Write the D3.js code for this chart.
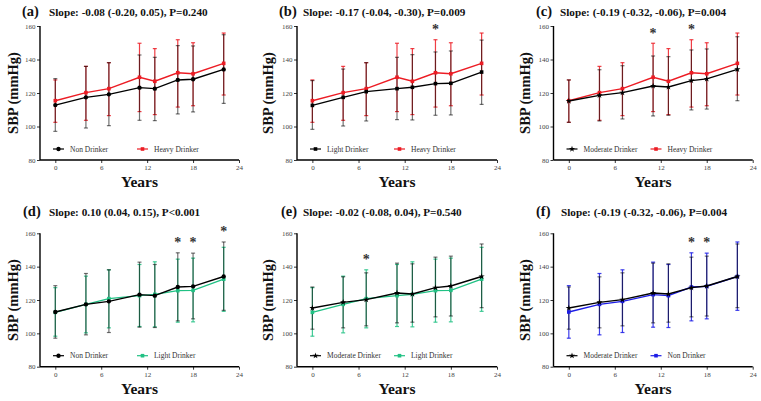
<!DOCTYPE html>
<html><head><meta charset="utf-8">
<script src="https://cdn.jsdelivr.net/npm/d3@7"></script>
<style>body{margin:0;background:#fff}svg{display:block}svg text{font-family:"Liberation Serif","Times New Roman",Times,serif}</style>
</head><body>
<svg id="c" width="761" height="401"></svg>
<script>
const years = [0,4,7,11,13,16,18,22];
const xTicks = [0,6,12,18,24];
const yTicks = [80,100,120,140,160];

const nonMean   = [112.8,117.4,119.2,123.2,122.6,127.8,128.2,134.1];
const nonLow    = [97.1,99.1,100.5,103.7,103.5,107.5,108.7,113.8];
const nonHigh   = [128.6,135.9,138.1,142.7,141.3,148.3,148.1,154.8];
const lightMean = [112.6,117.4,120.8,122.6,123.4,125.6,125.8,132.5];
const lightLow  = [98.3,100.3,103.3,104.1,103.9,106.7,106.9,113.2];
const lightHigh = [127.4,134.3,138.1,141.3,142.9,144.5,145.1,151.6];
const modMean   = [115.2,118.6,120.2,124.2,123.6,127.4,128.4,134.1];
const modLow    = [102.5,103.3,104.5,106.3,106.7,109.9,110.4,115.4];
const modHigh   = [127.8,133.9,136.3,142.1,141.7,145.7,146.3,153.6];
const heavyMean = [115.4,120.2,122.6,129.4,127.0,132.1,131.5,137.7];
const heavyLow  = [102.5,103.7,106.5,108.9,107.1,111.6,112.4,118.8];
const heavyHigh = [127.8,135.9,138.1,149.7,146.5,151.8,150.0,155.8];

const panelLabels = ["(a)","(b)","(c)","(d)","(e)","(f)"];
const slopeTexts = [
  "Slope: -0.08 (-0.20, 0.05), P=0.240",
  "Slope: -0.17 (-0.04, -0.30), P=0.009",
  "Slope: (-0.19 (-0.32, -0.06), P=0.004",
  "Slope: 0.10 (0.04, 0.15), P<0.001",
  "Slope: -0.02 (-0.08, 0.04), P=0.540",
  "Slope: (-0.19 (-0.32, -0.06), P=0.004"
];
const starYears = [[],[16],[11,16],[16,18,22],[7],[16,18]];

const groups = {
  non:   {name:"Non Drinker", mean:nonMean, low:nonLow, high:nonHigh},
  light: {name:"Light Drinker", mean:lightMean, low:lightLow, high:lightHigh},
  mod:   {name:"Moderate Drinker", mean:modMean, low:modLow, high:modHigh},
  heavy: {name:"Heavy Drinker", mean:heavyMean, low:heavyLow, high:heavyHigh}
};
// [black series, colored series]
const panelPairs = [["non","heavy"],["light","heavy"],["mod","heavy"],["non","light"],["mod","light"],["mod","non"]];
const pairColors = ["#ec1c24","#ec1c24","#ec1c24","#21c184","#21c184","#1c1ce6"];

// layout
const layout = [
  {ax:40, ax2:239, yTop:26, yBot:160, lab:22, slope:49, tY:16, ylabX:13},
  {ax:297, ax2:497, yTop:26, yBot:160, lab:279, slope:303, tY:16, ylabX:268},
  {ax:553.5, ax2:752.7, yTop:26, yBot:160, lab:536, slope:560, tY:16, ylabX:525},
  {ax:40, ax2:239, yTop:233.3, yBot:366.7, lab:23, slope:49, tY:216, ylabX:13},
  {ax:297, ax2:497, yTop:233.3, yBot:366.7, lab:281, slope:303, tY:216, ylabX:268},
  {ax:553.5, ax2:752.7, yTop:233.3, yBot:366.7, lab:536, slope:561, tY:216, ylabX:525}
];

const svg = d3.select("#c");

function markerPath(key, isBlack){
  if(key==="mod" && isBlack) return d3.symbol().type(d3.symbolStar).size(12)();
  if(key==="non" && isBlack) return d3.symbol().type(d3.symbolCircle).size(15)();
  return d3.symbol().type(d3.symbolSquare).size(13)();
}

layout.forEach((L,i)=>{
  const g = svg.append("g");
  const x = d3.scaleLinear().domain([-2,24]).range([L.ax, L.ax2]);
  const y = d3.scaleLinear().domain([80,160]).range([L.yBot, L.yTop]);
  const [bk, ck] = panelPairs[i];
  const color = pairColors[i];

  const yAxis = d3.axisLeft(y).tickValues(yTicks).tickSize(3).tickPadding(1.5);
  const xAxis = d3.axisBottom(x).tickValues(xTicks).tickSize(3).tickPadding(2);
  const ya = g.append("g").attr("transform",`translate(${L.ax},0)`).call(yAxis);
  const xa = g.append("g").attr("transform",`translate(0,${L.yBot})`).call(xAxis);
  [ya,xa].forEach(a=>{
    a.attr("font-family",null);
    a.select(".domain").attr("stroke","#000").attr("stroke-width",1.4);
    a.selectAll(".tick line").attr("stroke","#000").attr("stroke-width",0.8);
    a.selectAll(".tick text").style("font-size","7px").attr("fill","#444");
  });
  xa.select(".domain").attr("d",`M${L.ax},0H${L.ax2}`);
  ya.select(".domain").attr("d",`M0,${L.yTop}V${L.yBot}`);

  const line = d3.line().x((d,j)=>x(years[j])).y(d=>y(d));

  function drawErr(key, col, op){
    const G = groups[key];
    const eg = g.append("g").attr("stroke",col).attr("stroke-opacity",op).attr("stroke-width",1.2).attr("fill","none");
    years.forEach((yr,j)=>{
      const xx = x(yr);
      eg.append("line").attr("x1",xx).attr("x2",xx).attr("y1",y(G.low[j])).attr("y2",y(G.high[j]));
      eg.append("line").attr("x1",xx-2).attr("x2",xx+2).attr("y1",y(G.low[j])).attr("y2",y(G.low[j]));
      eg.append("line").attr("x1",xx-2).attr("x2",xx+2).attr("y1",y(G.high[j])).attr("y2",y(G.high[j]));
    });
  }
  function drawLine(key, col, isBlack){
    const G = groups[key];
    g.append("path").attr("d",line(G.mean)).attr("fill","none").attr("stroke",col).attr("stroke-width",1.4);
    g.selectAll(null).data(G.mean).enter().append("path")
      .attr("d",markerPath(key,isBlack))
      .attr("transform",(d,j)=>`translate(${x(years[j])},${y(d)})`)
      .attr("fill",col);
  }
  drawErr(ck, color, 0.85);
  drawErr(bk, "#000", 0.55);
  drawLine(ck, color, false);
  drawLine(bk, "#000", true);

  starYears[i].forEach(yr=>{
    const j = years.indexOf(yr);
    const top = Math.max(groups[bk].high[j], groups[ck].high[j]);
    g.append("text").attr("x",x(yr)).attr("y",y(top+7)+6)
      .attr("text-anchor","middle").style("font-weight","bold")
      .style("font-size","14px").attr("fill","#333").text("*");
  });

  const ly = L.yBot - 11;
  const items = [{k:bk,col:"#000",black:true,x0:L.ax+13},{k:ck,col:color,black:false,x0:L.ax+97}];
  items.forEach(it=>{
    g.append("line").attr("x1",it.x0).attr("x2",it.x0+11).attr("y1",ly).attr("y2",ly)
      .attr("stroke",it.col).attr("stroke-width",1.2);
    g.append("path").attr("d",markerPath(it.k,it.black)).attr("transform",`translate(${it.x0+5.5},${ly})`).attr("fill",it.col);
    g.append("text").attr("x",it.x0+17).attr("y",ly+2.5)
      .style("font-size","7.5px").attr("fill","#333").text(groups[it.k].name);
  });

  g.append("text").attr("x",L.lab).attr("y",L.tY).style("font-weight","bold")
    .style("font-size","14.5px").attr("fill","#111").text(panelLabels[i]);
  g.append("text").attr("x",L.slope).attr("y",L.tY).style("font-weight","bold")
    .style("font-size","11.2px").attr("fill","#111").text(slopeTexts[i]);

  g.append("text").attr("transform",`translate(${L.ylabX},${(L.yTop+L.yBot)/2}) rotate(-90)`)
    .attr("text-anchor","middle").attr("dy","0.35em").style("font-weight","bold")
    .style("font-size","14.5px").attr("fill","#111").text("SBP (mmHg)");
  g.append("text").attr("x",(L.ax+L.ax2)/2).attr("y",L.yBot+27)
    .attr("text-anchor","middle").style("font-weight","bold")
    .style("font-size","15.5px").attr("fill","#111").text("Years");
});
</script>
</body></html>
